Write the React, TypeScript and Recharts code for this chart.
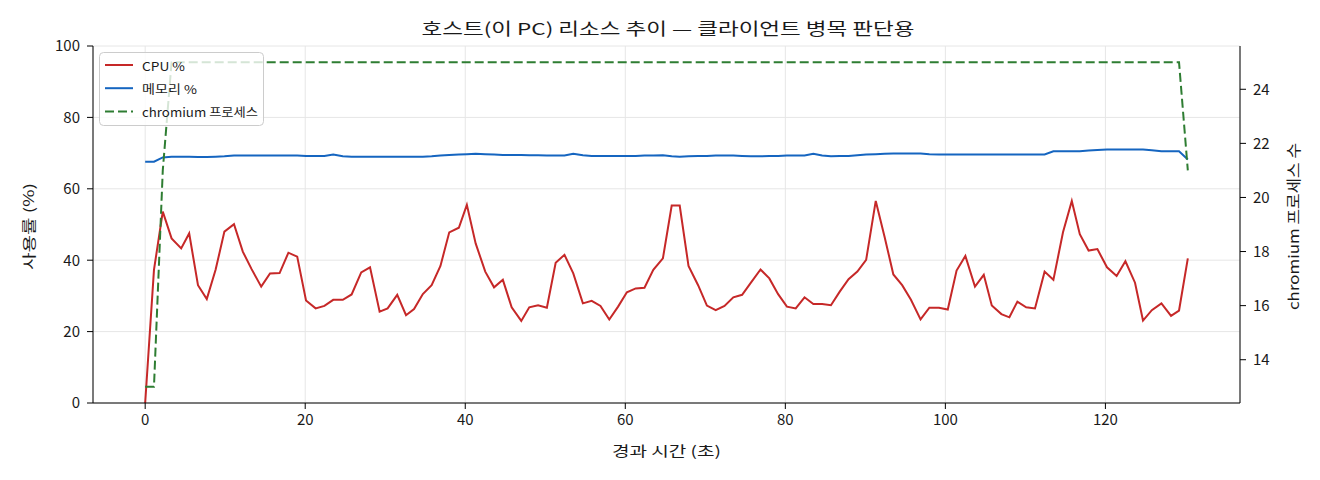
import React from "react";
import { ComposedChart, Line, XAxis, YAxis, CartesianGrid } from "recharts";

// 경과 시간 (초)
const times = [
  0.0, 1.1, 2.2, 3.3, 4.5, 5.5, 6.6, 7.7, 8.8, 9.9,
  11.1, 12.2, 13.3, 14.5, 15.6, 16.8, 17.9, 19.0, 20.1, 21.3,
  22.4, 23.5, 24.7, 25.8, 27.0, 28.1, 29.3, 30.3, 31.5, 32.6,
  33.6, 34.7, 35.8, 36.9, 38.0, 39.2, 40.2, 41.3, 42.5, 43.6,
  44.7, 45.8, 47.0, 48.0, 49.1, 50.2, 51.3, 52.4, 53.5, 54.7,
  55.8, 56.9, 58.0, 59.1, 60.2, 61.3, 62.4, 63.5, 64.7, 65.8,
  66.8, 67.9, 69.1, 70.2, 71.3, 72.4, 73.5, 74.6, 75.7, 76.9,
  78.0, 79.1, 80.2, 81.3, 82.4, 83.5, 84.6, 85.7, 86.8, 87.9,
  89.0, 90.1, 91.3, 92.4, 93.5, 94.6, 95.7, 96.9, 98.0, 99.2,
  100.3, 101.4, 102.5, 103.7, 104.8, 105.8, 107.0, 108.0, 109.0, 110.1,
  111.2, 112.4, 113.5, 114.7, 115.8, 116.8, 117.9, 119.0, 120.2, 121.4,
  122.5, 123.7, 124.7, 125.8, 127.0, 128.2, 129.2, 130.3,
];

const cpu = [
  0, 37.3, 53.6, 46.1, 43.3, 47.5, 33.0, 29.1, 37.3, 48.0,
  50.1, 42.4, 37.5, 32.6, 36.3, 36.4, 42.1, 41.0, 28.7, 26.5,
  27.2, 28.9, 28.9, 30.4, 36.6, 38.0, 25.6, 26.5, 30.3, 24.6,
  26.3, 30.5, 33.0, 38.4, 47.8, 49.1, 55.5, 44.7, 36.8, 32.4,
  34.5, 26.8, 23.0, 26.8, 27.4, 26.7, 39.3, 41.5, 36.3, 27.9,
  28.6, 27.2, 23.4, 27.0, 31.0, 32.1, 32.3, 37.3, 40.5, 55.3,
  55.3, 38.4, 33.0, 27.3, 26.0, 27.2, 29.6, 30.3, 33.7, 37.4,
  34.9, 30.5, 27.0, 26.5, 29.6, 27.7, 27.7, 27.4, 31.2, 34.7,
  36.8, 40.1, 56.6, 46.6, 36.0, 33.0, 28.9, 23.4, 26.7, 26.7,
  26.2, 37.1, 41.2, 32.6, 35.9, 27.3, 24.9, 24.0, 28.4, 26.8,
  26.5, 36.8, 34.5, 47.8, 56.6, 47.3, 42.7, 43.1, 38.0, 35.6,
  39.7, 33.7, 23.1, 26.0, 27.9, 24.4, 25.9, 40.5,
];

const memory = [
  67.6, 67.6, 68.8, 69.0, 69.0, 69.0, 68.9, 68.9, 69.0, 69.1,
  69.3, 69.3, 69.3, 69.3, 69.3, 69.3, 69.3, 69.3, 69.2, 69.2,
  69.2, 69.6, 69.1, 69.0, 69.0, 69.0, 69.0, 69.0, 69.0, 69.0,
  69.0, 69.0, 69.1, 69.3, 69.5, 69.6, 69.7, 69.8, 69.7, 69.6,
  69.5, 69.5, 69.5, 69.4, 69.4, 69.3, 69.3, 69.3, 69.8, 69.4,
  69.2, 69.2, 69.2, 69.2, 69.2, 69.2, 69.3, 69.3, 69.4, 69.1,
  69.0, 69.1, 69.2, 69.2, 69.3, 69.3, 69.3, 69.2, 69.1, 69.1,
  69.2, 69.2, 69.3, 69.3, 69.3, 69.8, 69.3, 69.1, 69.2, 69.2,
  69.4, 69.6, 69.7, 69.8, 69.9, 69.9, 69.9, 69.9, 69.7, 69.6,
  69.6, 69.6, 69.6, 69.6, 69.6, 69.6, 69.6, 69.6, 69.6, 69.6,
  69.6, 69.6, 70.5, 70.5, 70.5, 70.5, 70.7, 70.9, 71.0, 71.0,
  71.0, 71.0, 71.0, 70.8, 70.5, 70.5, 70.5, 68.2,
];

const chromium = [
  13, 13, 21, 25, 25, 25, 25, 25, 25, 25,
  25, 25, 25, 25, 25, 25, 25, 25, 25, 25,
  25, 25, 25, 25, 25, 25, 25, 25, 25, 25,
  25, 25, 25, 25, 25, 25, 25, 25, 25, 25,
  25, 25, 25, 25, 25, 25, 25, 25, 25, 25,
  25, 25, 25, 25, 25, 25, 25, 25, 25, 25,
  25, 25, 25, 25, 25, 25, 25, 25, 25, 25,
  25, 25, 25, 25, 25, 25, 25, 25, 25, 25,
  25, 25, 25, 25, 25, 25, 25, 25, 25, 25,
  25, 25, 25, 25, 25, 25, 25, 25, 25, 25,
  25, 25, 25, 25, 25, 25, 25, 25, 25, 25,
  25, 25, 25, 25, 25, 25, 25, 21,
];

const xTicks = [0, 20, 40, 60, 80, 100, 120];
const pctTicks = [0, 20, 40, 60, 80, 100];
const procTicks = [14, 16, 18, 20, 22, 24];

const data = times.map((t, i) => ({ t, cpu: cpu[i], mem: memory[i], proc: chromium[i] }));

const FONT = '"Noto Sans CJK KR", "Noto Sans", sans-serif';
const INK = "#1a1a1a";
const tickStyle = { fontSize: 15, fill: INK, fontFamily: FONT };

const legendItems = [
  { name: "CPU %", color: "#c62828", dash: undefined, len: 43 },
  { name: "메모리 %", color: "#1565c0", dash: undefined, len: 55 },
  { name: "chromium 프로세스", color: "#2e7d32", dash: "9 4", len: 116 },
];

function ChartLegend() {
  return (
    <svg
      width={166}
      height={75}
      style={{ position: "absolute", left: 98.5, top: 51.5, pointerEvents: "none" }}
      fontFamily={FONT}
    >
      <rect x={0.5} y={0.5} width={164} height={73} rx={4} fill="rgba(255,255,255,0.8)" stroke="#cccccc" />
      {legendItems.map((it, i) => {
        const cy = 13 + i * 23.2;
        return (
          <g key={it.name}>
            <line x1={6} y1={cy} x2={34} y2={cy} stroke={it.color} strokeWidth={2} strokeDasharray={it.dash} />
            <text
              x={43}
              y={cy}
              dominantBaseline="central"
              fontSize={12}
              fill={INK}
              textLength={it.len}
              lengthAdjust="spacingAndGlyphs"
            >
              {it.name}
            </text>
          </g>
        );
      })}
    </svg>
  );
}

export default function App() {
  return (
    <div style={{ position: "absolute", left: 0, top: 0, width: 1320, height: 480, background: "#fff" }}>
      <ComposedChart width={1320} height={480} data={data} margin={{ top: 46, right: 0, bottom: 0, left: 0 }}>
        <CartesianGrid yAxisId="left" stroke="#e6e6e6" strokeWidth={1} />
        <XAxis
          dataKey="t"
          type="number"
          domain={[-6.52, 136.82]}
          allowDataOverflow
          ticks={xTicks}
          height={77}
          tick={tickStyle}
          tickSize={6}
          tickMargin={5}
          stroke="#000"
          tickLine={{ stroke: "#000" }}
        />
        <XAxis
          xAxisId="top"
          orientation="top"
          dataKey="t"
          type="number"
          domain={[-6.52, 136.82]}
          allowDataOverflow
          height={0}
          tick={false}
          tickLine={false}
          stroke="#000"
        />
        <YAxis
          yAxisId="left"
          type="number"
          domain={[0, 100]}
          allowDataOverflow
          ticks={pctTicks}
          width={93}
          tick={tickStyle}
          tickSize={6}
          tickMargin={7}
          stroke="#000"
          tickLine={{ stroke: "#000" }}
        />
        <YAxis
          yAxisId="right"
          orientation="right"
          type="number"
          domain={[12.4, 25.6]}
          allowDataOverflow
          ticks={procTicks}
          width={80}
          tick={tickStyle}
          tickSize={6}
          tickMargin={7}
          stroke="#000"
          tickLine={{ stroke: "#000" }}
        />
        <Line
          yAxisId="left"
          dataKey="cpu"
          type="linear"
          stroke="#c62828"
          strokeWidth={2}
          dot={false}
          isAnimationActive={false}
        />
        <Line
          yAxisId="left"
          dataKey="mem"
          type="linear"
          stroke="#1565c0"
          strokeWidth={2}
          dot={false}
          isAnimationActive={false}
        />
        <Line
          yAxisId="right"
          dataKey="proc"
          type="linear"
          stroke="#2e7d32"
          strokeWidth={2}
          strokeDasharray="9 4"
          dot={false}
          isAnimationActive={false}
        />
      </ComposedChart>
      <svg
        width={1320}
        height={480}
        style={{ position: "absolute", left: 0, top: 0, pointerEvents: "none" }}
        fontFamily={FONT}
        fill={INK}
      >
        <text x={668} y={28} textAnchor="middle" dominantBaseline="central" fontSize={16.5} textLength={493} lengthAdjust="spacingAndGlyphs">
          호스트(이 PC) 리소스 추이 — 클라이언트 병목 판단용
        </text>
        <text x={666.5} y={450} textAnchor="middle" dominantBaseline="central" fontSize={14} textLength={109} lengthAdjust="spacingAndGlyphs">
          경과 시간 (초)
        </text>
        <text
          x={28}
          y={226.5}
          textAnchor="middle"
          dominantBaseline="central"
          fontSize={14}
          textLength={87}
          lengthAdjust="spacingAndGlyphs"
          transform="rotate(-90 28 226.5)"
        >
          사용률 (%)
        </text>
        <text
          x={1292}
          y={226.5}
          textAnchor="middle"
          dominantBaseline="central"
          fontSize={14.5}
          textLength={167}
          lengthAdjust="spacingAndGlyphs"
          transform="rotate(-90 1292 226.5)"
        >
          chromium 프로세스 수
        </text>
      </svg>
      <ChartLegend />
    </div>
  );
}
